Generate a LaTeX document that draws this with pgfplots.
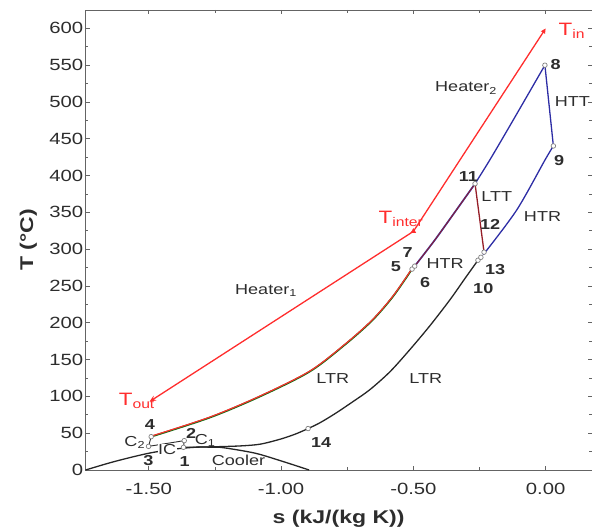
\documentclass[border=0pt]{standalone}
\usepackage{fontspec}
\setmainfont{Liberation Sans}[FakeStretch=1.25]
\usepackage{pgfplots}
\usepackage{pgfplotstable}
\pgfplotsset{compat=1.18}
\usetikzlibrary{arrows.meta}

\definecolor{cycblue}{RGB}{45,45,165}
\definecolor{cycred}{RGB}{255,45,45}
\definecolor{cycdark}{RGB}{150,30,40}
\definecolor{cycgreen}{RGB}{20,110,20}
\definecolor{txt}{RGB}{45,45,45}
\definecolor{axisgray}{RGB}{100,100,100}

\newcommand{\lbl}{\fontsize{14.5}{16}\selectfont}
\newcommand{\nlbl}{\fontsize{14.5}{16}\selectfont\bfseries}
\newcommand{\tlbl}{\fontsize{18}{20}\selectfont}

% LTR cold side, 4 -> 5
\pgfplotstableread{
s T
-1.491 45.3
-1.270 71.2
-1.081 99.7
-0.892 133.7
-0.758 170.5
-0.656 203.1
-0.577 235.8
-0.505 273.1
}\ltrcold

% HTR cold side, 7 -> 11
\pgfplotstableread{
s T
-0.495 277
-0.42 312
-0.35 347
-0.267 389
}\htrcold

\begin{document}
\begin{tikzpicture}
\begin{axis}[
  width=506.7bp, height=460bp, scale only axis,
  xmin=-1.74, xmax=0.175, ymin=0, ymax=625,
  xtick={-1.5,-1,-0.5,0}, minor xtick={-1.25,-0.75,-0.25},
  ytick={0,50,...,600}, minor ytick={25,75,...,625},
  tick align=inside,
  major tick length=4.5bp, minor tick length=3bp,
  axis line style={axisgray, line width=0.9bp},
  every tick/.style={axisgray, line width=0.8bp},
  tick label style={font=\fontsize{16.3}{18}\selectfont, text=txt},
  /pgf/number format/assume math mode=true,
  xticklabel style={yshift=-9.6bp, /pgf/number format/.cd, fixed, fixed zerofill, precision=2},
  yticklabel style={xshift=1.5bp, /pgf/number format/fixed},
  xlabel={s (kJ/(kg K))}, ylabel={T (°C)},
  label style={font=\fontsize{18.5}{20}\selectfont\bfseries, text=txt, inner sep=0pt},
  xlabel style={at={(axis description cs:0.5,-0.086)}, anchor=north},
  ylabel style={at={(axis description cs:-0.095,0.5)}, anchor=south},
  clip=false,
]

% saturation dome
\addplot[black!85, line width=1.3bp, smooth] coordinates {
  (-1.739,0) (-1.65,9.5) (-1.57,17) (-1.49,23.5) (-1.40,28.5) (-1.32,31)
  (-1.26,31) (-1.218,30.3) (-1.10,23) (-1.003,12.7) (-0.894,0)};

% heat source: Tin -> Tinter -> Tout
\addplot[cycred, line width=1.3bp, -{Triangle[length=5bp,width=4.5bp]}] coordinates {(-0.5,324.2) (0,600)};
\addplot[cycred, line width=1.3bp, -{Stealth[length=6.5bp,width=5.5bp]}] coordinates {(-0.5,324.2) (-1.497,93)};
\addplot[cycred, only marks, mark=triangle*, mark size=2.8bp] coordinates {(-0.5,324.2)};

% LTR hot side and cooler, 10 -> 14 -> 1
\addplot[black!85, line width=1.3bp, smooth] coordinates {
  (-0.256,285) (-0.305,260.3) (-0.361,231.7) (-0.437,196.3) (-0.513,163.7)
  (-0.588,133.7) (-0.664,109.3) (-0.728,93.0) (-0.796,76.6) (-0.852,64.4)
  (-0.898,56.3) (-0.947,48.7) (-1.003,41.9) (-1.079,35.1) (-1.155,32.7)
  (-1.268,31.4) (-1.369,30.8)};

% LTR cold side
\addplot[cycgreen, line width=1.8bp, smooth] table {\ltrcold};
\addplot[cycred, line width=1.1bp, smooth, yshift=0.5bp] table {\ltrcold};

% HTR cold side
\addplot[cycblue, line width=1.7bp, smooth] table {\htrcold};
\addplot[cycdark, line width=0.8bp, smooth] table {\htrcold};

% Heater 2, 11 -> 8
\addplot[cycblue, line width=1.3bp, smooth] coordinates {(-0.267,389) (-0.21,422) (-0.13,471) (-0.003,550)};
% HTT, 8 -> 9
\addplot[cycblue, line width=1.3bp] coordinates {(-0.003,550) (0.029,440.3)};
% HTR hot side, 9 -> 13
\addplot[cycblue, line width=1.3bp, smooth] coordinates {(0.029,440.3) (-0.003,421) (-0.11,353) (-0.236,292.5)};
% LTT, 11 -> 12
\addplot[cycdark, line width=1.3bp] coordinates {(-0.267,389) (-0.233,296)};

% compressors and intercooler
\addplot[txt, line width=0.9bp] coordinates {(-1.369,30.8) (-1.366,39.9)};
\addplot[txt, line width=0.9bp] coordinates {(-1.501,32.1) (-1.491,45.3)};
\addplot[txt, line width=0.9bp] coordinates {(-1.366,39.9) (-1.501,32.1)};

% state points
\addplot[only marks, mark=*, mark size=2.3bp, mark options={fill=white, draw=gray, line width=0.7bp}] coordinates {
  (-1.369,30.8) (-1.366,39.9) (-1.501,32.1) (-1.491,45.3)
  (-0.505,273) (-0.495,277) (-0.003,550) (0.029,440.3)
  (-0.256,285) (-0.267,389) (-0.233,296) (-0.245,289) (-0.898,56.3)};

% labels
\node[txt, font=\lbl] at (axis cs:-1.057,243.3) {Heater\textsubscript{1}};
\node[txt, font=\lbl] at (axis cs:-0.301,519) {Heater\textsubscript{2}};
\node[txt, font=\lbl] at (axis cs:-0.805,123.8) {LTR};
\node[txt, font=\lbl] at (axis cs:-0.453,123.8) {LTR};
\node[txt, font=\lbl] at (axis cs:-0.380,280) {HTR};
\node[txt, font=\lbl] at (axis cs:-0.012,345) {HTR};
\node[txt, font=\lbl] at (axis cs:-0.185,372) {LTT};
\node[txt, font=\lbl] at (axis cs:0.101,500) {HTT};
\node[txt, font=\lbl] at (axis cs:-1.161,12.7) {Cooler};
\node[txt, font=\lbl, fill=white, inner sep=0.5pt] at (axis cs:-1.431,27.3) {IC};
\node[txt, font=\lbl] at (axis cs:-1.287,40) {C\textsubscript{1}};
\node[txt, font=\lbl] at (axis cs:-1.553,37.6) {C\textsubscript{2}};

\node[txt, font=\nlbl] at (axis cs:-1.365,12) {1};
\node[txt, font=\nlbl] at (axis cs:-1.340,50) {2};
\node[txt, font=\nlbl] at (axis cs:-1.502,13.3) {3};
\node[txt, font=\nlbl] at (axis cs:-1.496,61.4) {4};
\node[txt, font=\nlbl] at (axis cs:-0.566,277) {5};
\node[txt, font=\nlbl] at (axis cs:-0.456,255) {6};
\node[txt, font=\nlbl] at (axis cs:-0.522,295) {7};
\node[txt, font=\nlbl] at (axis cs:0.038,551) {8};
\node[txt, font=\nlbl] at (axis cs:0.051,421) {9};
\node[txt, font=\nlbl] at (axis cs:-0.236,247) {10};
\node[txt, font=\nlbl] at (axis cs:-0.292,399) {11};
\node[txt, font=\nlbl] at (axis cs:-0.210,333.7) {12};
\node[txt, font=\nlbl] at (axis cs:-0.191,272.5) {13};
\node[txt, font=\nlbl] at (axis cs:-0.849,37) {14};

\node[cycred, font=\tlbl, anchor=base west, inner sep=0pt] at (axis cs:0.048,590.8) {T\textsubscript{in}};
\node[cycred, font=\tlbl, anchor=base west, inner sep=0pt] at (axis cs:-0.632,335) {T\textsubscript{inter}};
\node[cycred, font=\tlbl, anchor=base west, inner sep=0pt] at (axis cs:-1.614,87.5) {T\textsubscript{out}};
\end{axis}
\pgfresetboundingbox
\path ([shift={(-85.3bp,-61bp)}]current axis.south west) rectangle ([shift={(0bp,10bp)}]current axis.north east);
\end{tikzpicture}
\end{document}
